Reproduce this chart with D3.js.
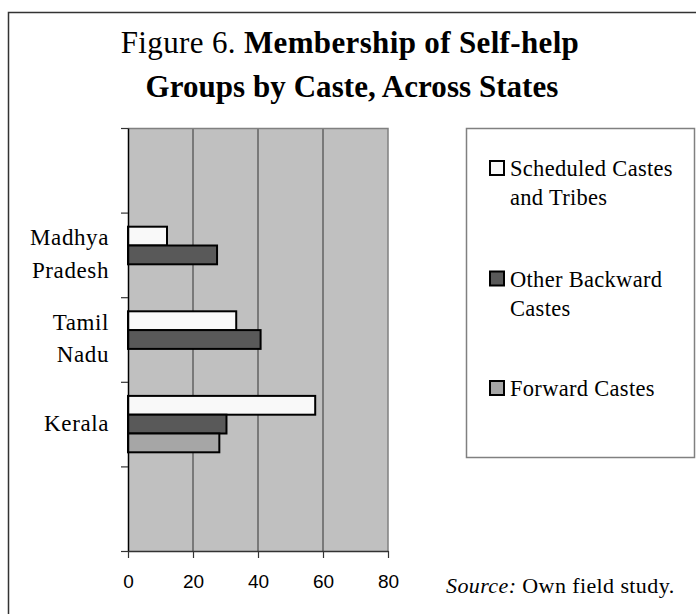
<!DOCTYPE html>
<html>
<head>
<meta charset="utf-8">
<script src="https://cdn.jsdelivr.net/npm/d3@7"></script>
<style>
  html, body { margin: 0; padding: 0; background: #fff; }
  svg { display: block; }
</style>
</head>
<body>
<svg id="chart" width="696" height="614"></svg>
<script>
// Chart data: share of self-help group members by caste group, per state
const states = ["Madhya Pradesh", "Tamil Nadu", "Kerala"];
const stateLabelLines = [["Madhya", "Pradesh"], ["Tamil", "Nadu"], ["Kerala"]];
const seriesNames = ["Scheduled Castes and Tribes", "Other Backward Castes", "Forward Castes"];
const legendLines = [["Scheduled Castes", "and Tribes"], ["Other Backward", "Castes"], ["Forward Castes"]];
const scheduledCastes = [12, 33.3, 57.6];
const otherBackward = [27.4, 40.8, 30.3];
const forwardCastes = [null, null, 28.1];
const xTicks = [0, 20, 40, 60, 80];
const slotCount = 5; // axis slots; states occupy slots 1..3

const seriesValues = [scheduledCastes, otherBackward, forwardCastes];
const seriesFill = ["#f9f9f9", "#595959", "#a6a6a6"];

const svg = d3.select("#chart");
const serif = "'Liberation Serif', 'Times New Roman', serif";
const sans = "'Liberation Sans', Arial, sans-serif";

// outer frame
svg.append("rect")
  .attr("x", 8.5).attr("y", 12.5)
  .attr("width", 720).attr("height", 720)
  .attr("fill", "none").attr("stroke", "#333").attr("stroke-width", 1.5);

// title
const title = svg.append("g").attr("font-family", serif).attr("text-anchor", "middle")
  .attr("fill", "#000").attr("font-size", 31);
const t1 = title.append("text").attr("x", 350).attr("y", 53).attr("letter-spacing", 0.35);
t1.append("tspan").text("Figure 6. ");
t1.append("tspan").attr("font-weight", "bold").text("Membership of Self-help");
title.append("text").attr("x", 352).attr("y", 97).attr("letter-spacing", 0.05)
  .attr("font-weight", "bold").text("Groups by Caste, Across States");

// plot geometry
const plot = { left: 128, right: 388, top: 128, bottom: 551 };

const x = d3.scaleLinear().domain([0, 80]).range([plot.left, plot.right]);
const ySlot = d3.scaleBand().domain(d3.range(slotCount)).range([plot.top, plot.bottom]).padding(0);
const ySeries = d3.scaleBand().domain(d3.range(seriesNames.length))
  .range([0, ySlot.bandwidth()]).paddingInner(0).paddingOuter(0.75);
const yEdge = d3.scaleLinear().domain([0, slotCount]).range([plot.top, plot.bottom]);

// plot background
svg.append("rect")
  .attr("x", plot.left).attr("y", plot.top)
  .attr("width", plot.right - plot.left).attr("height", plot.bottom - plot.top)
  .attr("fill", "#c0c0c0");

// vertical gridlines
svg.append("g").selectAll("line")
  .data(xTicks.filter(d => d > 0 && d < 80))
  .join("line")
  .attr("x1", d => x(d)).attr("x2", d => x(d))
  .attr("y1", plot.top).attr("y2", plot.bottom)
  .attr("stroke", "#333").attr("stroke-width", 1);

// plot border (top and right)
svg.append("path")
  .attr("d", `M${plot.left},${plot.top + 0.5}H${plot.right}V${plot.bottom}`)
  .attr("fill", "none").attr("stroke", "#808080").attr("stroke-width", 1.5);

// bars
const groups = svg.append("g").selectAll("g")
  .data(states)
  .join("g")
  .attr("transform", (d, i) => `translate(0,${ySlot(i + 1)})`);

groups.selectAll("rect")
  .data((d, i) => seriesValues.map((vals, s) => ({ s, v: vals[i] })).filter(e => e.v != null))
  .join("rect")
  .attr("x", x(0))
  .attr("y", d => ySeries(d.s))
  .attr("width", d => x(d.v) - x(0))
  .attr("height", ySeries.bandwidth())
  .attr("fill", d => seriesFill[d.s])
  .attr("stroke", "#000").attr("stroke-width", 2);

// left axis (category boundaries)
const yAxis = svg.append("g")
  .attr("transform", `translate(${plot.left},0)`)
  .call(d3.axisLeft(yEdge).tickValues(d3.range(slotCount + 1)).tickFormat("").tickSize(7).tickSizeOuter(0));
yAxis.select(".domain").attr("stroke", "#000").attr("stroke-width", 1.5);
yAxis.selectAll(".tick line").attr("stroke", "#333").attr("stroke-width", 1.2);

// bottom axis
const xAxis = svg.append("g")
  .attr("transform", `translate(0,${plot.bottom})`)
  .call(d3.axisBottom(x).tickValues(xTicks).tickSize(7).tickSizeOuter(0).tickPadding(17));
xAxis.select(".domain").attr("stroke", "#333").attr("stroke-width", 1.5);
xAxis.selectAll(".tick line").attr("stroke", "#333").attr("stroke-width", 1.2);
xAxis.selectAll(".tick text")
  .attr("font-family", sans).attr("font-size", 19).attr("fill", "#000");

// state labels
const lineGap = 32.5;
svg.append("g").selectAll("text")
  .data(states)
  .join("text")
  .attr("font-family", serif).attr("font-size", 23).attr("letter-spacing", 0.6)
  .attr("text-anchor", "end").attr("fill", "#000")
  .each(function (d, i) {
    const lines = stateLabelLines[i];
    const cy = ySlot(i + 1) + ySlot.bandwidth() / 2 + 6.5;
    d3.select(this).selectAll("tspan")
      .data(lines)
      .join("tspan")
      .attr("x", 109)
      .attr("y", (l, k) => cy + (k - (lines.length - 1) / 2) * lineGap)
      .text(l => l);
  });

// legend
svg.append("rect")
  .attr("x", 466.5).attr("y", 128.5).attr("width", 228).attr("height", 329)
  .attr("fill", "#fff").attr("stroke", "#808080").attr("stroke-width", 1.5);

const legendBase = [176, 286.5, 396];
const legend = svg.append("g").selectAll("g")
  .data(seriesNames)
  .join("g")
  .attr("transform", (d, i) => `translate(490,${legendBase[i]})`);
legend.append("rect")
  .attr("x", 0).attr("y", -15).attr("width", 14).attr("height", 14)
  .attr("fill", (d, i) => seriesFill[i]).attr("stroke", "#000").attr("stroke-width", 2);
legend.append("text")
  .attr("font-family", serif).attr("font-size", 22.5).attr("letter-spacing", 0.3).attr("fill", "#000")
  .selectAll("tspan")
  .data((d, i) => legendLines[i])
  .join("tspan")
  .attr("x", 20)
  .attr("y", (l, k) => k * 29)
  .text(l => l);

// source note
const src = svg.append("text")
  .attr("x", 446).attr("y", 593)
  .attr("font-family", serif).attr("font-size", 22).attr("letter-spacing", 0.4).attr("fill", "#000");
src.append("tspan").attr("font-style", "italic").text("Source:");
src.append("tspan").text(" Own field study.");
</script>
</body>
</html>
